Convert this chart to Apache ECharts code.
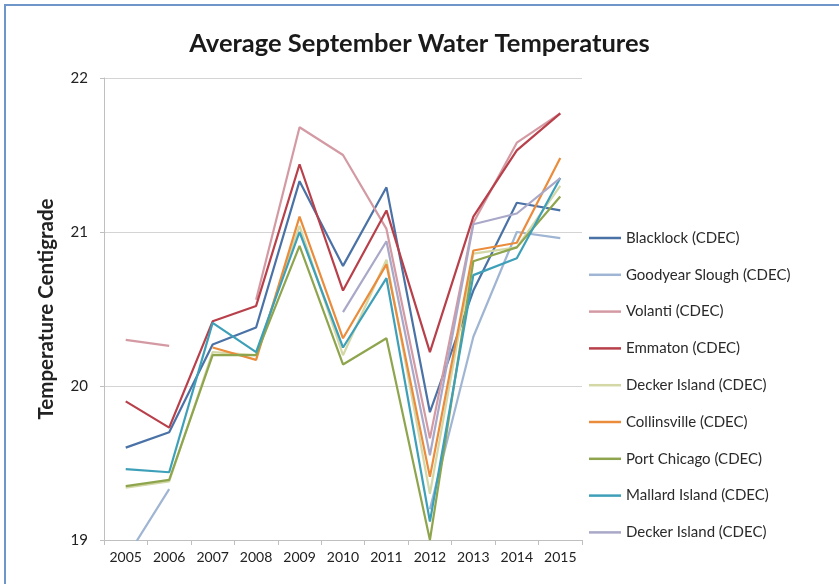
<!DOCTYPE html>
<html>
<head>
<meta charset="utf-8">
<script src="https://cdn.jsdelivr.net/npm/echarts@6/dist/echarts.min.js"></script>
<style>
  html, body { margin: 0; padding: 0; background: #fff; }
  #main { width: 839px; height: 584px; }
</style>
</head>
<body>
<div id="main"></div>
<script>
// data
var years = ['2005','2006','2007','2008','2009','2010','2011','2012','2013','2014','2015'];
var yTicks = [19, 20, 21, 22];

var blacklock    = [19.60, 19.70, 20.27, 20.38, 21.33, 20.78, 21.29, 19.83, 20.62, 21.19, 21.14];
var goodyear     = [18.88, 19.33, null, null, null, null, null, 19.20, 20.32, 21.00, 20.96];
var volanti      = [20.30, 20.26, null, 20.56, 21.68, 21.50, 21.02, 19.66, 21.06, 21.58, 21.77];
var emmaton      = [19.90, 19.73, 20.42, 20.52, 21.44, 20.62, 21.14, 20.22, 21.10, 21.53, 21.77];
var decker1      = [19.34, 19.38, 20.22, 20.20, 21.04, 20.20, 20.82, 19.30, 20.86, 20.90, 21.30];
var collinsville = [null, null, 20.25, 20.17, 21.10, 20.31, 20.79, 19.41, 20.88, 20.93, 21.48];
var portChicago  = [19.35, 19.39, 20.20, 20.20, 20.91, 20.14, 20.31, 19.00, 20.81, 20.90, 21.23];
var mallard      = [19.46, 19.44, 20.41, 20.22, 21.00, 20.25, 20.70, 19.12, 20.72, 20.83, 21.35];
var decker2      = [null, null, null, null, null, 20.48, 20.94, 19.55, 21.05, 21.12, 21.35];

var names = ['Blacklock (CDEC)', 'Goodyear Slough (CDEC)', 'Volanti (CDEC)', 'Emmaton (CDEC)',
             'Decker Island (CDEC)', 'Collinsville (CDEC)', 'Port Chicago (CDEC)',
             'Mallard Island (CDEC)', 'Decker Island (CDEC) '];
var values = [blacklock, goodyear, volanti, emmaton, decker1, collinsville, portChicago, mallard, decker2];
var colors = ['#4a72a6', '#9fb5d3', '#d49aa3', '#b8404a', '#d3d8a6', '#ea8c3c', '#8ea54e', '#3ea0b8', '#a9a8c8'];

var font = 'Lato, "Open Sans", sans-serif';

var series = [];
for (var i = 0; i < names.length; i++) {
  series.push({
    name: names[i],
    type: 'line',
    data: values[i],
    symbol: 'none',
    connectNulls: false,
    animation: false,
    lineStyle: { color: colors[i], width: 2.2 },
    itemStyle: { color: colors[i] }
  });
}

var myChart = echarts.init(document.getElementById('main'));
var option = {
  backgroundColor: '#fff',
  color: colors,
  title: {
    text: 'Average September Water Temperatures',
    left: 'center',
    top: 26,
    textStyle: { fontFamily: font, fontSize: 25.5, fontWeight: 'bold', color: '#1a1a1a' }
  },
  graphic: [{
    type: 'rect',
    shape: { x: 5, y: 5, width: 840, height: 600 },
    style: { fill: 'none', stroke: '#6f96c8', lineWidth: 2 },
    silent: true
  }],
  legend: {
    orient: 'vertical',
    left: 584,
    top: 225,
    icon: 'rect',
    itemGap: 20.8,
    itemWidth: 32,
    itemHeight: 2.5,
    data: names,
    textStyle: { fontFamily: font, fontSize: 15, lineHeight: 16, color: '#2a2a2a' }
  },
  grid: { left: 104, right: 257, top: 78, bottom: 44 },
  xAxis: {
    type: 'category',
    data: years,
    boundaryGap: true,
    axisLine: { lineStyle: { color: '#bfbfbf' } },
    axisTick: { show: true, length: 5, lineStyle: { color: '#bfbfbf' } },
    axisLabel: { fontFamily: font, fontSize: 14, color: '#222', margin: 10 }
  },
  yAxis: {
    type: 'value',
    min: yTicks[0],
    max: yTicks[yTicks.length - 1],
    interval: 1,
    name: 'Temperature Centigrade',
    nameLocation: 'middle',
    nameGap: 47,
    nameRotate: 90,
    nameTextStyle: { fontFamily: font, fontSize: 20.5, fontWeight: 'bold', color: '#222' },
    axisLine: { show: true, lineStyle: { color: '#bfbfbf' } },
    axisTick: { show: true, length: 4, lineStyle: { color: '#bfbfbf' } },
    axisLabel: { fontFamily: font, fontSize: 15, color: '#222', margin: 16 },
    splitLine: { lineStyle: { color: '#d4d4d4', width: 1 } }
  },
  series: series
};
myChart.setOption(option);
</script>
</body>
</html>
